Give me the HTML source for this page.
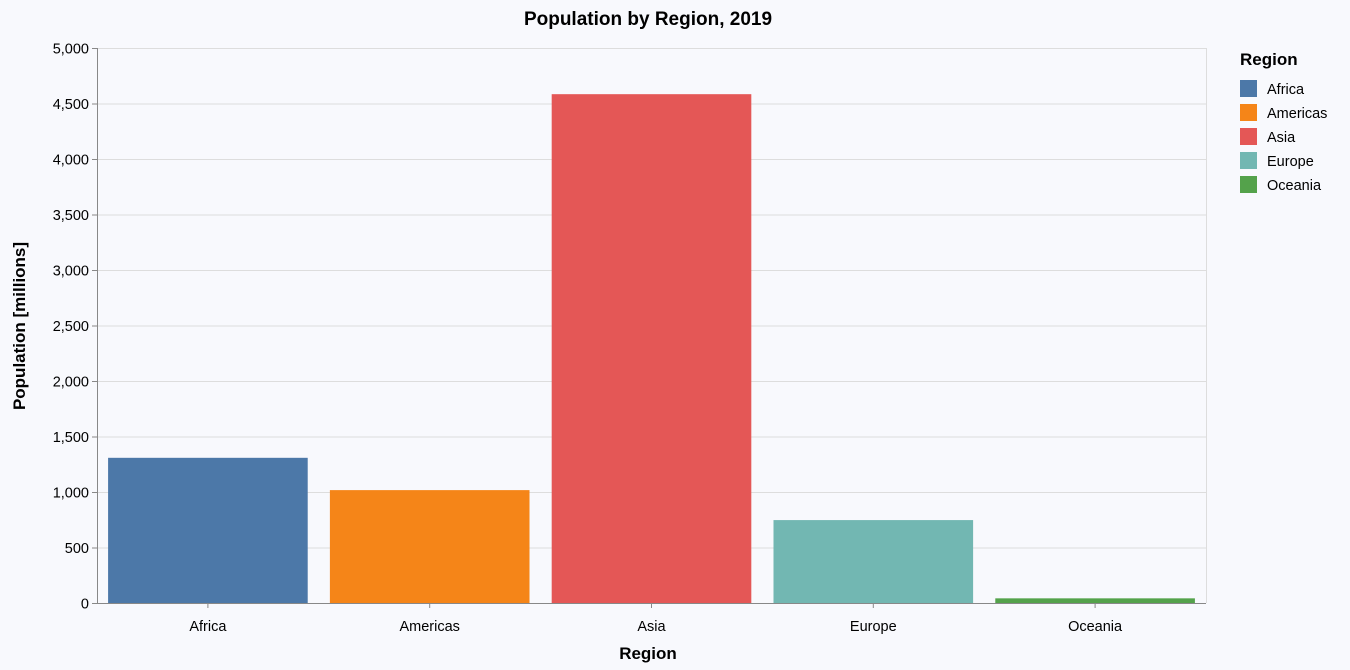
<!DOCTYPE html>
<html><head><meta charset="utf-8">
<style>
body{margin:0;background:#f8f9fd;}
svg{display:block;font-family:"Liberation Sans",Helvetica,Arial,sans-serif;}
</style></head>
<body>
<svg id="chart" width="1350" height="670">
<rect width="1350" height="670" fill="#f8f9fd"/>
<text x="648" y="25" text-anchor="middle" font-size="19" font-weight="bold" fill="#000">Population by Region, 2019</text>
<g id="grid"></g>
<g id="bars"></g>
<g id="axes"></g>
<text x="648" y="659" text-anchor="middle" font-size="17" font-weight="bold">Region</text>
<text transform="translate(25,326) rotate(-90)" text-anchor="middle" font-size="17" font-weight="bold">Population [millions]</text>
<g id="legend"></g>
</svg>
<script>
const categories=["Africa","Americas","Asia","Europe","Oceania"];
const values=[1308,1017,4584,747,42];
const colors=["#4c78a8","#f58518","#e45756","#72b7b2","#54a24b"];
const yTicks=[0,500,1000,1500,2000,2500,3000,3500,4000,4500,5000];
const NS="http://www.w3.org/2000/svg";
const X0=97,X1=1206,Y0=603,Y1=48,YMAX=5000;
const n=categories.length;
const step=(X1-X0)/(n-0.1+0.1);
const bw=step*0.9;
function xPos(i){return X0+step*0.05+i*step;}
function yPos(v){return Y0-(v/YMAX)*(Y0-Y1);}
function mk(tag,attrs,parent){const e=document.createElementNS(NS,tag);for(const k in attrs)e.setAttribute(k,attrs[k]);parent.appendChild(e);return e;}
const grid=document.getElementById('grid'),bars=document.getElementById('bars'),axes=document.getElementById('axes'),legend=document.getElementById('legend');
yTicks.forEach(t=>{
  const y=yPos(t)+0.5;
  const g=mk('line',{x1:X0,x2:X1,y1:y,y2:y,stroke:'#dddddd'},grid);
  
  
  const tk=mk('line',{x1:X0-5,x2:X0,y1:y,y2:y,stroke:'#888'},axes);
  
  
  const lb=mk('text',{x:X0-8,y:y+5,'text-anchor':'end','font-size':'14.5'},axes);
  lb.textContent=t.toLocaleString('en-US');
  
  
});
values.forEach((v,i)=>{
  const x=xPos(i);
  const r=mk('rect',{x:x,y:yPos(v),width:bw,height:Y0-yPos(v),fill:colors[i]},bars);
  
  
  const cx=x+bw/2;
  const tk=mk('line',{x1:cx,x2:cx,y1:Y0,y2:Y0+5,stroke:'#888'},axes);
  
  
  const lb=mk('text',{x:cx,y:Y0+28,'text-anchor':'middle','font-size':'14.5'},axes);
  lb.textContent=categories[i];
  
  
  const ly=80+i*24;
  const sq=mk('rect',{x:1240,y:ly,width:17,height:17,fill:colors[i]},legend);
  
  
  const lt=mk('text',{x:1267,y:ly+14,'font-size':'14.5'},legend);
  lt.textContent=categories[i];
  
  
});
const ya=mk('line',{x1:X0+0.5,x2:X0+0.5,y1:Y1,y2:Y0,stroke:'#888'},axes);


const xa=mk('line',{x1:X0,x2:X1,y1:Y0+0.5,y2:Y0+0.5,stroke:'#888'},axes);


const rb=mk('line',{x1:X1+0.5,x2:X1+0.5,y1:Y1,y2:Y0,stroke:'#dddddd'},grid);


const lt=mk('text',{x:1240,y:65,'font-size':'17','font-weight':'bold'},legend);
lt.textContent='Region';


</script>
</body></html>
